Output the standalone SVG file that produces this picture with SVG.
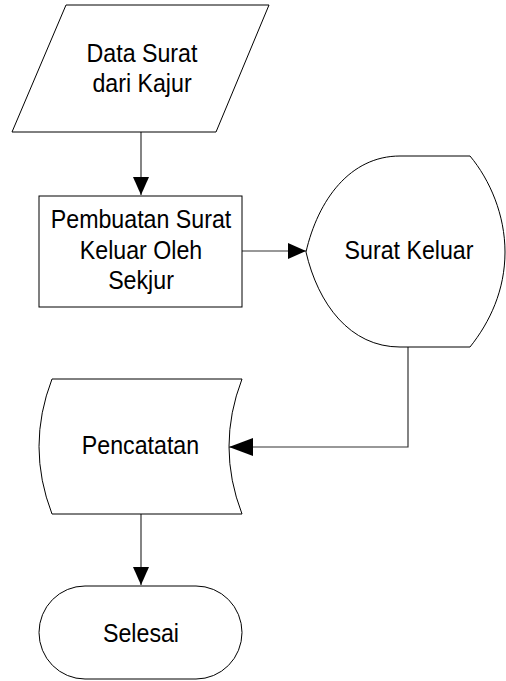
<svg xmlns="http://www.w3.org/2000/svg" width="506" height="681" viewBox="0 0 506 681">
<style>
.shape{fill:#fff;stroke:#000;stroke-width:1}
.conn{fill:none;stroke:#333;stroke-width:1.2}
.t{font-family:"Liberation Sans",Arial,sans-serif;font-size:25.5px;fill:#000;text-anchor:middle}
</style>
<defs>
<marker id="arr" markerUnits="userSpaceOnUse" markerWidth="18" markerHeight="16" refX="18" refY="8" orient="auto">
<path d="M0,0 L18,8 L0,16 z" fill="#000"/>
</marker>
<marker id="arrL" markerUnits="userSpaceOnUse" markerWidth="24" markerHeight="18" refX="24" refY="9" orient="auto">
<path d="M0,0 L24,9 L0,18 z" fill="#000"/>
</marker>
</defs>
<rect width="506" height="681" fill="#fff"/>
<g id="connectors">
<path class="conn" d="M141,132 V195" marker-end="url(#arr)"/>
<path class="conn" d="M242,251 H306" marker-end="url(#arr)"/>
<path class="conn" d="M408,347 V447 H229" marker-end="url(#arrL)"/>
<path class="conn" d="M141,514 V585" marker-end="url(#arr)"/>
</g>
<g id="data-surat">
<polygon class="shape" points="66,5 269,5 216,132 12,132"/>
<text class="t" transform="translate(142,62) scale(0.91,1)">Data Surat</text>
<text class="t" transform="translate(142,92) scale(0.91,1)">dari Kajur</text>
</g>
<g id="pembuatan">
<rect class="shape" x="39" y="196" width="203" height="111"/>
<text class="t" transform="translate(141,228) scale(0.91,1)">Pembuatan Surat</text>
<text class="t" transform="translate(141,258.5) scale(0.91,1)">Keluar Oleh</text>
<text class="t" transform="translate(141,289) scale(0.91,1)">Sekjur</text>
</g>
<g id="surat-keluar">
<path class="shape" d="M306,252 C318,200 350,156 400,156 H470 C490,180 505,215 505,252 C505,290 490,322 470,347 H400 C350,347 318,304 306,252 Z"/>
<text class="t" transform="translate(409,259) scale(0.91,1)">Surat Keluar</text>
</g>
<g id="pencatatan">
<path class="shape" d="M52,379 H242 Q216,446.5 242,514 H52 Q26,446.5 52,379 Z"/>
<text class="t" transform="translate(140.5,454) scale(0.91,1)">Pencatatan</text>
</g>
<g id="selesai">
<rect class="shape" x="39" y="586" width="203" height="93" rx="46" ry="46.5"/>
<text class="t" transform="translate(141,642) scale(0.91,1)">Selesai</text>
</g>
</svg>
